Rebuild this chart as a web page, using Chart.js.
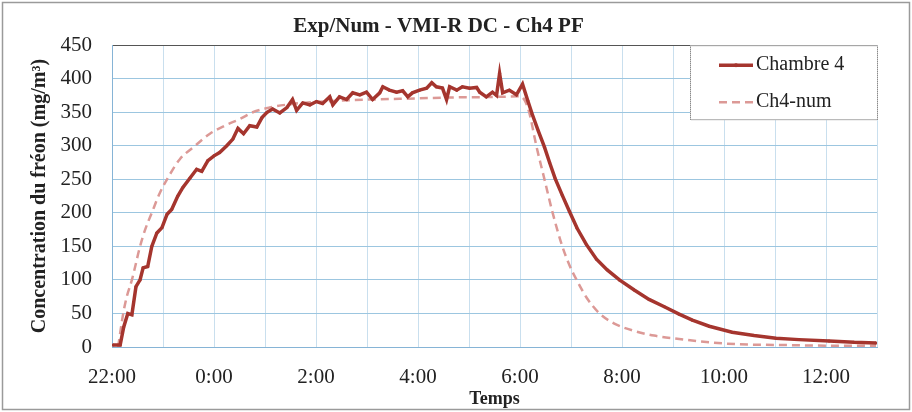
<!DOCTYPE html>
<html>
<head>
<meta charset="utf-8">
<script src="https://cdn.jsdelivr.net/npm/chart.js@4.4.1/dist/chart.umd.min.js"></script>
<style>
  html, body { margin: 0; background: #fff; }
</style>
</head>
<body>
<canvas id="chart" width="912" height="412"></canvas>
<script>
// time in hours, 22 = 22:00 of the first day, 30 = 6:00 next morning
const xTickLabels = ['22:00', '0:00', '2:00', '4:00', '6:00', '8:00', '10:00', '12:00'];

const expTimes = [22.02, 22.16, 22.23, 22.31, 22.39, 22.47, 22.55, 22.61, 22.70, 22.78, 22.88, 22.98,
  23.08, 23.17, 23.29, 23.39, 23.53, 23.66, 23.76, 23.88, 24.00, 24.11, 24.25, 24.37, 24.47, 24.58,
  24.70, 24.84, 24.94, 25.04, 25.15, 25.29, 25.43, 25.54, 25.62, 25.74, 25.88, 26.01, 26.13, 26.27,
  26.33, 26.46, 26.60, 26.72, 26.86, 26.99, 27.11, 27.25, 27.31, 27.44, 27.58, 27.70, 27.80, 27.89,
  28.03, 28.17, 28.27, 28.36, 28.48, 28.56, 28.62, 28.76, 28.87, 29.01, 29.15, 29.21, 29.34, 29.46,
  29.54, 29.60, 29.66, 29.79, 29.93, 30.05, 30.15, 30.24, 30.36, 30.48, 30.58, 30.69, 30.83, 30.97,
  31.12, 31.30, 31.50, 31.71, 31.95, 32.24, 32.53, 32.83, 33.12, 33.38, 33.71, 34.16, 34.59, 35.02,
  35.47, 36.06, 36.55, 36.98];
const expValues = [3, 3, 30, 50, 48, 90, 100, 118, 120, 150, 170, 178,
  198, 205, 225, 238, 252, 265, 262, 278, 285, 290, 300, 310, 326, 318,
  330, 328, 342, 350, 355, 349, 357, 369, 353, 364, 361, 366, 363, 373,
  361, 373, 369, 379, 376, 380, 369, 379, 388, 383, 380, 382, 373, 379,
  383, 386, 394, 388, 386, 369, 388, 383, 388, 386, 387, 380, 373, 380,
  375, 408, 379, 383, 376, 392, 368, 347, 322, 298, 275, 251, 226, 202,
  177, 153, 131, 115, 100, 85, 71, 60, 49, 40, 31, 22, 17, 13,
  11, 9, 7, 6];

const numTimes = [22.12, 22.22, 22.29, 22.39, 22.55, 22.65, 22.78, 22.94, 23.14, 23.33, 23.63, 23.92,
  24.21, 24.51, 24.76, 25.09, 25.49, 25.94, 26.66, 27.64, 28.62, 29.60, 30.01, 30.09, 30.18, 30.32,
  30.48, 30.64, 30.83, 30.97, 31.11, 31.32, 31.56, 31.85, 32.24, 32.63, 33.12, 33.71, 34.30, 35.08,
  36.06, 36.98];
const numValues = [0, 50, 75, 100, 150, 175, 200, 230, 258, 280, 300, 318,
  330, 340, 350, 357, 362, 365, 368, 370, 372, 373, 374, 368, 350, 300,
  250, 200, 150, 122, 100, 72, 50, 35, 24, 17, 12, 7, 4, 3,
  2, 2];

const SERIF = '"Liberation Serif", "DejaVu Serif", serif';
const expColor = '#a5352e';
const numColor = '#dc9996';

const framePlugin = {
  id: 'frame',
  beforeDraw(chart) {
    const ctx = chart.ctx;
    ctx.save();
    ctx.fillStyle = '#fff';
    ctx.fillRect(0, 0, chart.width, chart.height);
    ctx.strokeStyle = '#9a9a9a';
    ctx.lineWidth = 1.5;
    ctx.strokeRect(2.5, 2.5, chart.width - 5, chart.height - 5);
    ctx.restore();
  }
};

// legend box sitting in the top right corner of the plot
const boxLegend = {
  id: 'boxLegend',
  afterDraw(chart) {
    const ctx = chart.ctx;
    const area = chart.chartArea;
    const x0 = area.right - 187, y0 = area.top, w = 188, h = 75;
    ctx.save();
    ctx.fillStyle = '#fff';
    ctx.fillRect(x0, y0, w, h);
    ctx.strokeStyle = '#555';
    ctx.lineWidth = 1;
    ctx.setLineDash([1, 1]);
    ctx.strokeRect(x0 + 0.5, y0 + 0.5, w - 1, h - 1);
    ctx.setLineDash([]);
    chart.data.datasets.forEach((ds, i) => {
      const y = y0 + 20 + i * 37;
      ctx.strokeStyle = ds.borderColor;
      ctx.lineWidth = ds.borderWidth;
      ctx.setLineDash(ds.borderDash || []);
      ctx.beginPath();
      ctx.moveTo(x0 + 29, y);
      ctx.lineTo(x0 + 63, y);
      ctx.stroke();
      ctx.setLineDash([]);
      if (ds.pointRadius) {
        ctx.fillStyle = ds.borderColor;
        ctx.beginPath();
        ctx.arc(x0 + 46, y, ds.pointRadius + 0.5, 0, Math.PI * 2);
        ctx.fill();
      }
      ctx.fillStyle = '#222';
      ctx.font = '20px ' + SERIF;
      ctx.textBaseline = 'middle';
      ctx.fillText(ds.label, x0 + 66, y);
    });
    ctx.restore();
  }
};

new Chart(document.getElementById('chart'), {
  type: 'line',
  data: {
    datasets: [{
      label: 'Chambre 4',
      data: expTimes.map((t, i) => ({ x: t, y: expValues[i] })),
      borderColor: expColor,
      backgroundColor: expColor,
      borderWidth: 3.5,
      pointRadius: 1.5,
      pointBorderWidth: 0,
      tension: 0
    }, {
      label: 'Ch4-num',
      data: numTimes.map((t, i) => ({ x: t, y: numValues[i] })),
      borderColor: numColor,
      backgroundColor: numColor,
      borderWidth: 2.5,
      borderDash: [8, 5],
      pointRadius: 0,
      cubicInterpolationMode: 'monotone'
    }]
  },
  options: {
    responsive: false,
    devicePixelRatio: 1,
    animation: false,
    layout: { padding: { left: 0, right: 35, top: 0, bottom: 0 } },
    plugins: {
      legend: { display: false },
      tooltip: { enabled: false },
      title: {
        display: true,
        text: 'Exp/Num - VMI-R DC - Ch4 PF',
        color: '#222',
        font: { family: SERIF, size: 21, weight: 'bold' },
        padding: { top: 14, bottom: 6 }
      }
    },
    scales: {
      x: {
        type: 'linear',
        min: 22,
        max: 37,
        afterFit: (scale) => { scale.height = 65; },
        ticks: {
          stepSize: 1,
          autoSkip: false,
          maxRotation: 0,
          padding: 18,
          color: '#222',
          font: { family: SERIF, size: 21 },
          callback: (v) => (v % 2 === 0 ? xTickLabels[(v - 22) / 2] : '')
        },
        grid: { color: '#c9dfee', drawTicks: false },
        border: { color: '#86b4d6' },
        title: {
          display: true,
          text: 'Temps',
          color: '#222',
          font: { family: SERIF, size: 18, weight: 'bold' },
          padding: { top: 0, bottom: 2 }
        }
      },
      y: {
        min: 0,
        max: 450,
        afterFit: (scale) => { scale.width = 112; },
        ticks: {
          stepSize: 50,
          padding: 20,
          color: '#222',
          font: { family: SERIF, size: 21 }
        },
        grid: {
          color: (c) => (c.tick && c.tick.value === 450 ? '#555' : '#9cc6e0'),
          drawTicks: false
        },
        border: { color: '#86b4d6' },
        title: {
          display: true,
          text: 'Concentration du fréon (mg/m³)',
          color: '#222',
          font: { family: SERIF, size: 20, weight: 'bold' },
          padding: { top: 28, bottom: 0 }
        }
      }
    }
  },
  plugins: [framePlugin, boxLegend]
});
</script>
</body>
</html>
